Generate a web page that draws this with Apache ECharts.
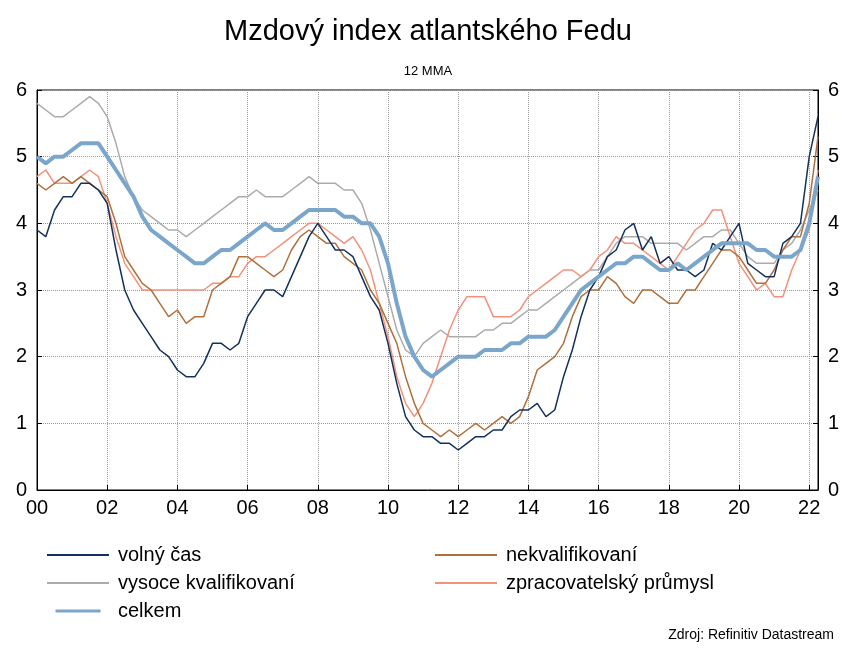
<!DOCTYPE html>
<html>
<head>
<meta charset="utf-8">
<script src="https://cdn.jsdelivr.net/npm/echarts@6/dist/echarts.min.js"></script>
<style>
  html, body { margin: 0; padding: 0; background: #fff; }
  #chart { width: 856px; height: 655px; }
</style>
</head>
<body>
<div id="chart"></div>
<script>
// čtvrtletí 2000Q1 .. 2022Q2
const quarters = [];
for (let y = 2000; y <= 2022; y++) {
  for (let q = 1; q <= 4; q++) {
    if (y === 2022 && q > 2) break;
    quarters.push(y + 'Q' + q);
  }
}

const volnyCas = [
  3.9, 3.8, 4.2, 4.4, 4.4, 4.6, 4.6, 4.5, 4.3, 3.6, 3.0, 2.7, 2.5, 2.3, 2.1, 2.0,
  1.8, 1.7, 1.7, 1.9, 2.2, 2.2, 2.1, 2.2, 2.6, 2.8, 3.0, 3.0, 2.9, 3.2, 3.5, 3.8,
  4.0, 3.8, 3.6, 3.6, 3.5, 3.2, 2.9, 2.7, 2.2, 1.6, 1.1, 0.9, 0.8, 0.8, 0.7, 0.7,
  0.6, 0.7, 0.8, 0.8, 0.9, 0.9, 1.1, 1.2, 1.2, 1.3, 1.1, 1.2, 1.7, 2.1, 2.6, 3.0,
  3.2, 3.5, 3.6, 3.9, 4.0, 3.6, 3.8, 3.4, 3.5, 3.3, 3.3, 3.2, 3.3, 3.7, 3.6, 3.8,
  4.0, 3.4, 3.3, 3.2, 3.2, 3.7, 3.8, 4.0, 5.0, 5.6
];
const nekvalifikovani = [
  4.6, 4.5, 4.6, 4.7, 4.6, 4.7, 4.6, 4.5, 4.4, 4.0, 3.5, 3.3, 3.1, 3.0, 2.8, 2.6,
  2.7, 2.5, 2.6, 2.6, 3.0, 3.1, 3.2, 3.5, 3.5, 3.4, 3.3, 3.2, 3.3, 3.6, 3.8, 3.9,
  3.8, 3.7, 3.7, 3.5, 3.4, 3.3, 3.0, 2.8, 2.5, 2.2, 1.7, 1.3, 1.0, 0.9, 0.8, 0.9,
  0.8, 0.9, 1.0, 0.9, 1.0, 1.1, 1.0, 1.1, 1.4, 1.8, 1.9, 2.0, 2.2, 2.6, 2.9, 3.0,
  3.0, 3.2, 3.1, 2.9, 2.8, 3.0, 3.0, 2.9, 2.8, 2.8, 3.0, 3.0, 3.2, 3.4, 3.6, 3.6,
  3.5, 3.3, 3.1, 3.1, 3.3, 3.6, 3.8, 3.8, 4.3, 5.3
];
const vysoceKvalifikovani = [
  5.8, 5.7, 5.6, 5.6, 5.7, 5.8, 5.9, 5.8, 5.6, 5.2, 4.7, 4.4, 4.2, 4.1, 4.0, 3.9,
  3.9, 3.8, 3.9, 4.0, 4.1, 4.2, 4.3, 4.4, 4.4, 4.5, 4.4, 4.4, 4.4, 4.5, 4.6, 4.7,
  4.6, 4.6, 4.6, 4.5, 4.5, 4.3, 3.9, 3.4, 2.9, 2.4, 2.1, 2.0, 2.2, 2.3, 2.4, 2.3,
  2.3, 2.3, 2.3, 2.4, 2.4, 2.5, 2.5, 2.6, 2.7, 2.7, 2.8, 2.9, 3.0, 3.1, 3.2, 3.3,
  3.3, 3.5, 3.7, 3.8, 3.8, 3.8, 3.7, 3.7, 3.7, 3.7, 3.6, 3.7, 3.8, 3.8, 3.9, 3.9,
  3.7, 3.5, 3.4, 3.4, 3.4, 3.6, 3.7, 3.9, 4.2, 4.5
];
const zpracovatelsky = [
  4.7, 4.8, 4.6, 4.6, 4.6, 4.7, 4.8, 4.7, 4.3, 3.8, 3.4, 3.2, 3.0, 3.0, 3.0, 3.0,
  3.0, 3.0, 3.0, 3.0, 3.1, 3.1, 3.2, 3.2, 3.4, 3.5, 3.5, 3.6, 3.7, 3.8, 3.9, 4.0,
  4.0, 3.9, 3.8, 3.7, 3.8, 3.6, 3.3, 2.8, 2.3, 1.7, 1.3, 1.1, 1.3, 1.6, 2.0, 2.4,
  2.7, 2.9, 2.9, 2.9, 2.6, 2.6, 2.6, 2.7, 2.9, 3.0, 3.1, 3.2, 3.3, 3.3, 3.2, 3.3,
  3.5, 3.6, 3.8, 3.7, 3.7, 3.6, 3.5, 3.4, 3.3, 3.5, 3.7, 3.9, 4.0, 4.2, 4.2, 3.8,
  3.4, 3.2, 3.0, 3.1, 2.9, 2.9, 3.3, 3.6, 3.9, 4.8
];
const celkem = [
  5.0, 4.9, 5.0, 5.0, 5.1, 5.2, 5.2, 5.2, 5.0, 4.8, 4.6, 4.4, 4.1, 3.9, 3.8, 3.7,
  3.6, 3.5, 3.4, 3.4, 3.5, 3.6, 3.6, 3.7, 3.8, 3.9, 4.0, 3.9, 3.9, 4.0, 4.1, 4.2,
  4.2, 4.2, 4.2, 4.1, 4.1, 4.0, 4.0, 3.8, 3.4, 2.8, 2.3, 2.0, 1.8, 1.7, 1.8, 1.9,
  2.0, 2.0, 2.0, 2.1, 2.1, 2.1, 2.2, 2.2, 2.3, 2.3, 2.3, 2.4, 2.6, 2.8, 3.0, 3.1,
  3.2, 3.3, 3.4, 3.4, 3.5, 3.5, 3.4, 3.3, 3.3, 3.4, 3.3, 3.4, 3.5, 3.6, 3.7, 3.7,
  3.7, 3.7, 3.6, 3.6, 3.5, 3.5, 3.5, 3.6, 4.0, 4.7
];

const chart = echarts.init(document.getElementById('chart'));
const font = 'Liberation Sans, Arial, sans-serif';
const showTick = (i, v) => /Q1$/.test(v) && (+v.slice(0, 4)) % 2 === 0;

const line = (name, data, color, width, z) => ({
  name, type: 'line', data, symbol: 'none', z,
  lineStyle: { color, width }, itemStyle: { color }
});
// plain line as legend icon
const thin = 'path://M0,0 L60,0 L60,2 L0,2 Z';
const thick = 'path://M0,0 L60,0 L60,4 L0,4 Z';

chart.setOption({
  animation: false,
  textStyle: { fontFamily: font },
  title: [
    { text: 'Mzdový index atlantského Fedu', left: 'center', top: 12,
      textStyle: { fontSize: 29, fontWeight: 'normal', color: '#000', fontFamily: font } },
    { text: '12 MMA', left: 'center', top: 60,
      textStyle: { fontSize: 13, fontWeight: 'normal', color: '#000', fontFamily: font } }
  ],
  grid: { left: 37, right: 38, top: 90, bottom: 165, show: true, borderColor: '#000', borderWidth: 1 },
  xAxis: {
    type: 'category', data: quarters, boundaryGap: false,
    axisLine: { lineStyle: { color: '#000' } },
    axisTick: { inside: true, interval: showTick, lineStyle: { color: '#000' } },
    axisLabel: { interval: showTick, formatter: v => v.slice(2, 4), fontSize: 20, color: '#000', margin: 8 },
    splitLine: { show: true, interval: showTick, lineStyle: { color: '#999', type: 'dotted' } }
  },
  yAxis: [0, 1].map(i => ({
    type: 'value', min: 0, max: 6, interval: 1, position: i ? 'right' : 'left',
    axisLine: { show: true, lineStyle: { color: '#000' } },
    axisTick: { show: true, inside: true, lineStyle: { color: '#000' } },
    axisLabel: { fontSize: 20, color: '#000', margin: 10 },
    splitLine: { show: i === 0, lineStyle: { color: '#999', type: 'dotted' } }
  })),
  legend: [
    { left: 42, top: 540, orient: 'vertical', itemWidth: 62, itemHeight: 3, itemGap: 8,
      data: [
        { name: 'volný čas', icon: thin, itemStyle: { color: '#14315e' } },
        { name: 'vysoce kvalifikovaní', icon: thin, itemStyle: { color: '#ababab' } },
        { name: 'celkem', icon: thick, itemStyle: { color: '#7aa6cc' } }
      ],
      textStyle: { fontSize: 20, color: '#000', padding: [0, 0, 0, 4] } },
    { left: 430, top: 540, orient: 'vertical', itemWidth: 62, itemHeight: 3, itemGap: 8,
      data: [
        { name: 'nekvalifikovaní', icon: thin, itemStyle: { color: '#b0703c' } },
        { name: 'zpracovatelský průmysl', icon: thin, itemStyle: { color: '#f4917b' } }
      ],
      textStyle: { fontSize: 20, color: '#000', padding: [0, 0, 0, 4] } }
  ],
  graphic: [{
    type: 'text', right: 22, top: 628,
    style: { text: 'Zdroj: Refinitiv Datastream', fontSize: 14, fill: '#000', fontFamily: font }
  }],
  series: [
    line('vysoce kvalifikovaní', vysoceKvalifikovani, '#ababab', 1.5, 2),
    line('zpracovatelský průmysl', zpracovatelsky, '#f4917b', 1.5, 3),
    line('nekvalifikovaní', nekvalifikovani, '#b0703c', 1.5, 4),
    line('volný čas', volnyCas, '#14315e', 1.5, 5),
    line('celkem', celkem, '#7aa6cc', 4, 6)
  ]
});
</script>
</body>
</html>
